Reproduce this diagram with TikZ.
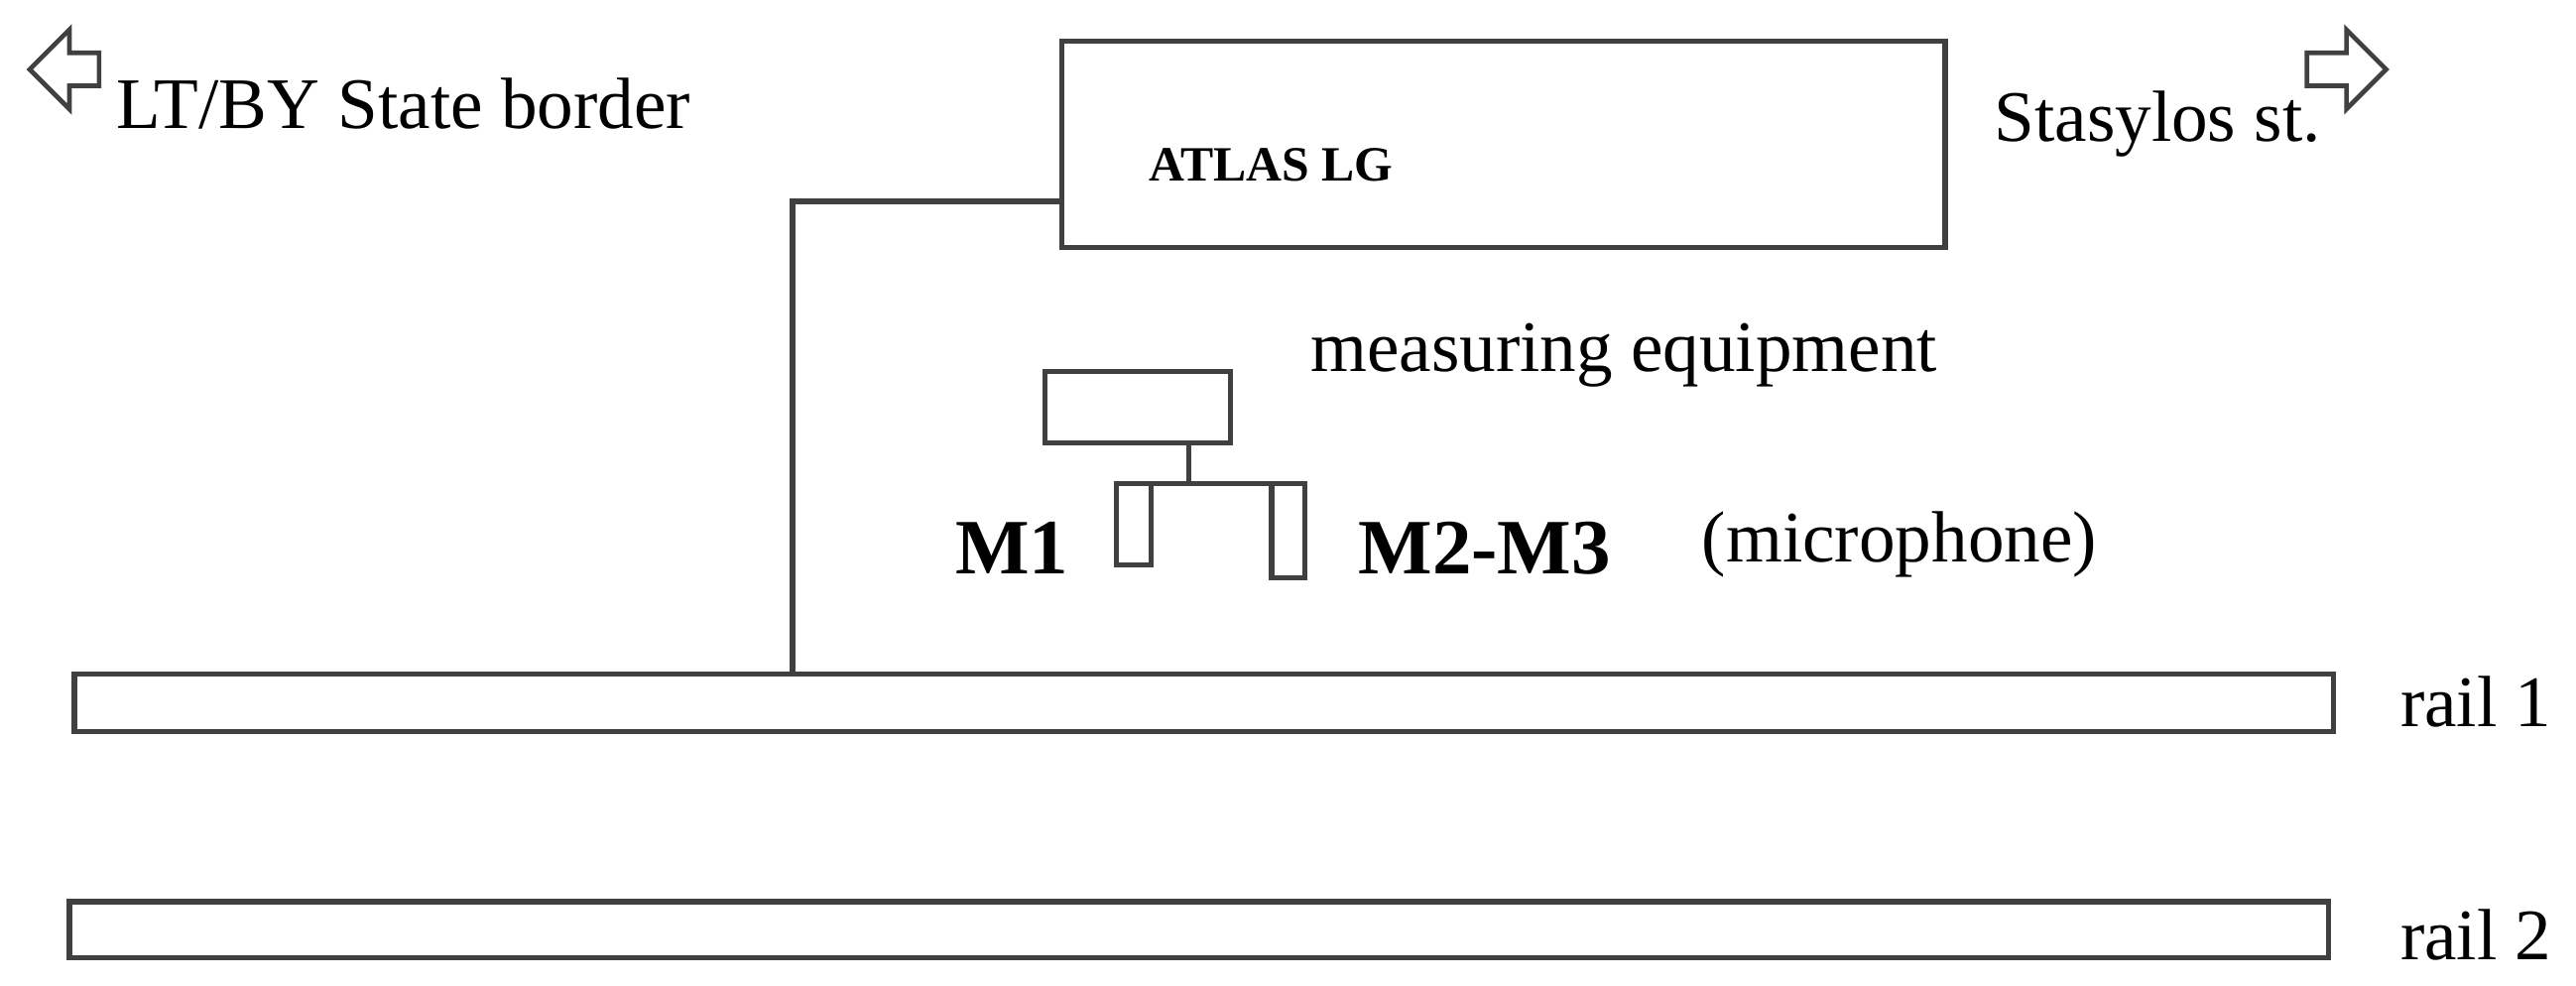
\documentclass[tikz,border=0pt]{standalone}
\usepackage{fontspec}
\setmainfont{Liberation Serif}
\begin{document}
\begin{tikzpicture}[x=1mm,y=-1mm,
  box/.style={draw=black!75,line width=0.9pt},
  lbl/.style={font=\fontsize{12.5}{14}\selectfont,inner sep=0pt,anchor=west},
  blbl/.style={font=\fontsize{13.5}{15}\selectfont\bfseries,inner sep=0pt,anchor=west},
  hollow/.style={draw=black!75,line width=0.8pt,fill=white}]
\useasboundingbox (0,0) rectangle (156,59.7);
% arrows
\draw[hollow] (1.8,4.2) -- (4.2,1.8) -- (4.2,3.2) -- (6.0,3.2) -- (6.0,5.2) -- (4.2,5.2) -- (4.2,6.6) -- cycle;
\draw[hollow] (144.5,4.2) -- (142.1,1.8) -- (142.1,3.2) -- (139.7,3.2) -- (139.7,5.2) -- (142.1,5.2) -- (142.1,6.6) -- cycle;
\node[lbl] (lt) at (7.0,6.3) {LT/BY State border};
\node[lbl] (st) at (120.7,7.5) {Stasylos st.};
% ATLAS box
\node[box,minimum width=53.5mm,minimum height=12.5mm,inner sep=0pt] (atlas) at (91.05,8.75) {};
\node[font=\fontsize{8.5}{10}\selectfont\bfseries,inner sep=0pt,anchor=west] (al) at (69.5,10) {ATLAS LG};
% rails
\node[box,minimum width=136.8mm,minimum height=3.5mm,inner sep=0pt] (r1) at (72.9,42.55) {};
\node[box,minimum width=136.8mm,minimum height=3.4mm,inner sep=0pt] (r2) at (72.6,56.3) {};
\node[lbl] (r1l) at (145.3,42.5) {rail 1};
\node[lbl] (r2l) at (145.3,56.6) {rail 2};
% connection line
\coordinate (c1) at (48,12.2);
\draw[box] (atlas.west |- c1) -- (c1) -- (c1 |- r1.north);
% measuring equipment
\node[box,minimum width=11.2mm,minimum height=4.3mm,inner sep=0pt] (me) at (68.9,24.65) {};
\node[lbl] (mel) at (79.3,21.5) {measuring equipment};
\node[box,minimum width=2.1mm,minimum height=4.9mm,inner sep=0pt] (m1) at (68.65,31.75) {};
\node[box,minimum width=2.0mm,minimum height=5.7mm,inner sep=0pt] (m2) at (78,32.15) {};
\coordinate (j) at (72,29.3);
\draw[box] (me.south -| j) -- (j);
\draw[box] (m1.north) -- (m1.north |- j) -- (m2.north |- j) -- (m2.north);
\node[blbl] (m1l) at (57.8,33.2) {M1};
\node[blbl] (m2l) at (82.2,33.2) {M2-M3};
\node[lbl] (mic) at (103,33) {(microphone)};
\end{tikzpicture}
\end{document}
